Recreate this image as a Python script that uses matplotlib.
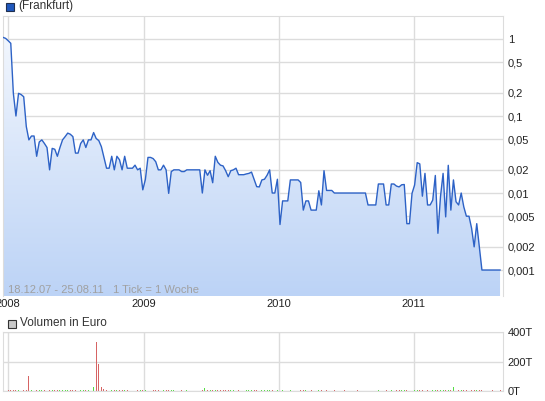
import numpy as np
import pandas as pd
import matplotlib
matplotlib.use('Agg')
import matplotlib.pyplot as plt
from matplotlib.colors import LinearSegmentedColormap
from matplotlib.patches import Rectangle

plt.rcParams['font.family'] = ['Liberation Sans', 'DejaVu Sans']

# woechentliche Kurse (Frankfurt), 18.12.07 - 25.08.11
wochen = pd.date_range('2007-12-18', periods=193, freq='7D')
kurs = [
    1.05, 1.02, 0.95, 0.88, 0.197, 0.10, 0.197, 0.19, 0.178, 0.073,
    0.049, 0.055, 0.055, 0.030, 0.046, 0.049, 0.044, 0.039, 0.020, 0.038,
    0.037, 0.030, 0.039, 0.049, 0.054, 0.060, 0.058, 0.054, 0.033, 0.033,
    0.044, 0.049, 0.039, 0.049, 0.049, 0.061, 0.051, 0.048, 0.040, 0.029,
    0.021, 0.021, 0.030, 0.020, 0.030, 0.027, 0.020, 0.030, 0.021, 0.021,
    0.021, 0.023, 0.020, 0.021, 0.011, 0.015, 0.029, 0.029, 0.028, 0.0255,
    0.020, 0.020, 0.023, 0.020, 0.0099, 0.019, 0.020, 0.020, 0.020, 0.019,
    0.019, 0.020, 0.020, 0.020, 0.020, 0.020, 0.020, 0.010, 0.020, 0.017,
    0.0195, 0.0136, 0.030, 0.025, 0.023, 0.0225, 0.0195, 0.0163, 0.0195, 0.020,
    0.021, 0.0173, 0.0173, 0.0173, 0.0177, 0.018, 0.0187, 0.0151, 0.0121, 0.012,
    0.0148, 0.0151, 0.017, 0.020, 0.010, 0.010, 0.0151, 0.0039, 0.0079, 0.0079,
    0.0079, 0.0148, 0.0148, 0.0148, 0.0148, 0.0137, 0.006, 0.0079, 0.0079, 0.006,
    0.006, 0.006, 0.0107, 0.007, 0.0195, 0.0108, 0.0108, 0.0108, 0.010, 0.010,
    0.010, 0.010, 0.010, 0.010, 0.010, 0.010, 0.010, 0.010, 0.010, 0.010,
    0.010, 0.007, 0.007, 0.007, 0.007, 0.0131, 0.0131, 0.0131, 0.007, 0.007,
    0.0131, 0.0131, 0.0123, 0.012, 0.0128, 0.0129, 0.004, 0.004, 0.0099, 0.0127,
    0.0248, 0.0239, 0.0091, 0.018, 0.007, 0.007, 0.0081, 0.0169, 0.003, 0.009,
    0.018, 0.0049, 0.0229, 0.006, 0.0148, 0.0077, 0.007, 0.010, 0.0066, 0.005,
    0.005, 0.0035, 0.002, 0.004, 0.002, 0.001, 0.001, 0.001, 0.001, 0.001,
    0.001, 0.001, 0.001,
]
# Volumen in Tausend Euro
volumen = [
    0, 0, 5, 5, 9, 7, 5, 0, 5, 7,
    100, 8, 0, 7, 7, 5, 5, 7, 7, 7,
    5, 7, 7, 7, 5, 7, 5, 5, 7, 0,
    7, 5, 7, 7, 0, 30, 332, 183, 30, 12,
    7, 0, 7, 7, 7, 5, 7, 7, 7, 0,
    0, 5, 7, 5, 7, 7, 7, 0, 5, 5,
    7, 0, 5, 5, 9, 7, 5, 0, 0, 5,
    0, 5, 0, 0, 0, 0, 0, 7, 20, 7,
    7, 7, 10, 7, 7, 5, 7, 7, 7, 5,
    5, 7, 0, 0, 5, 5, 5, 7, 7, 0,
    7, 5, 5, 7, 7, 0, 7, 7, 7, 0,
    0, 7, 0, 0, 0, 5, 7, 7, 0, 7,
    0, 0, 7, 7, 7, 7, 0, 0, 5, 0,
    0, 0, 5, 0, 0, 0, 0, 5, 0, 0,
    0, 7, 0, 0, 0, 7, 0, 0, 7, 0,
    7, 0, 5, 5, 5, 7, 7, 0, 7, 7,
    7, 7, 7, 7, 7, 0, 7, 7, 7, 7,
    7, 7, 7, 7, 25, 9, 7, 7, 7, 7,
    0, 7, 7, 7, 7, 7, 0, 0, 0, 5,
    0, 0, 5,
]
y_ticks = [1, 0.5, 0.2, 0.1, 0.05, 0.02, 0.01, 0.005, 0.002, 0.001]
y_labels = ['1', '0,5', '0,2', '0,1', '0,05', '0,02', '0,01', '0,005', '0,002', '0,001']
jahre = pd.to_datetime(['2008-01-01', '2009-01-01', '2010-01-01', '2011-01-01'])
jahr_labels = ['2008', '2009', '2010', '2011']
vol_ticks = [0, 200, 400]
vol_labels = ['0T', '200T', '400T']

W, H = 545, 401
grau = '#dcdcdc'
xmin, xmax = pd.Timestamp('2007-12-18'), pd.Timestamp('2011-08-31')

fig = plt.figure(figsize=(W / 100, H / 100), dpi=100)

# Kurs-Chart
ax = fig.add_axes([3 / W, 1 - 296 / H, 500 / W, 280 / H])
ax.set_yscale('log')
blau = LinearSegmentedColormap.from_list('blau', ['#bcd3f6', '#f6f9fe'])
grad = np.linspace(0, 1, 256).reshape(-1, 1)
im = ax.imshow(grad, cmap=blau, aspect='auto', origin='lower',
               extent=[0, 1, 0, 1], transform=ax.transAxes, zorder=1)
poly = ax.fill_between(wochen, kurs, 1e-5, color='none', lw=0)
im.set_clip_path(poly.get_paths()[0], transform=ax.transData)
ax.plot(wochen, kurs, color='#2d62c6', lw=1.0, zorder=3)
ax.set_xlim(xmin, xmax)
ax.set_ylim(0.00046, 1.99)
ax.set_yticks(y_ticks)
ax.set_yticklabels(y_labels)
ax.minorticks_off()
ax.set_xticks(jahre)
ax.set_xticklabels(jahr_labels)
ax.yaxis.tick_right()
ax.tick_params(length=0, labelsize=8, colors='#222222', pad=3.5)
ax.tick_params(axis='x', pad=2)
ax.grid(color=grau, lw=1, zorder=0)
ax.set_axisbelow(True)
for s in ax.spines.values():
    s.set_color(grau)
ax.spines['bottom'].set_visible(False)
ax.text(0.01, 0.022, '18.12.07 - 25.08.11   1 Tick = 1 Woche', transform=ax.transAxes,
        fontsize=8, color='#a0a0a0', va='center', ha='left', zorder=4)

# Volumen
ax2 = fig.add_axes([3 / W, 1 - 391 / H, 500 / W, 59 / H])
farben = ['#55dd44' if i > 0 and kurs[i] > kurs[i - 1] else '#d66464' for i in range(len(kurs))]
ax2.bar(wochen, volumen, width=2.5, color=farben, zorder=2)
ax2.set_xlim(xmin, xmax)
ax2.set_ylim(0, 400)
ax2.set_yticks(vol_ticks)
ax2.set_yticklabels(vol_labels)
ax2.set_xticks(jahre)
ax2.set_xticklabels([])
ax2.yaxis.tick_right()
ax2.tick_params(length=0, labelsize=8, colors='#222222', pad=3.5)
ax2.grid(color=grau, lw=1, zorder=0)
ax2.set_axisbelow(True)
for s in ax2.spines.values():
    s.set_color(grau)

# Legenden
fig.add_artist(Rectangle((6 / W, 1 - 11 / H), 8 / W, 8 / H, transform=fig.transFigure,
                         facecolor='#1f58bd', edgecolor='#203050', lw=0.8))
fig.text(18 / W, 1 - 6.5 / H, '(Frankfurt)', fontsize=8.5, color='#333333', va='center')
fig.add_artist(Rectangle((8 / W, 1 - 328 / H), 8 / W, 8 / H, transform=fig.transFigure,
                         facecolor='#c8c8c8', edgecolor='#333333', lw=0.8))
fig.text(20 / W, 1 - 323.5 / H, 'Volumen in Euro', fontsize=8.5, color='#333333', va='center')

fig.savefig('out.png', dpi=100)
